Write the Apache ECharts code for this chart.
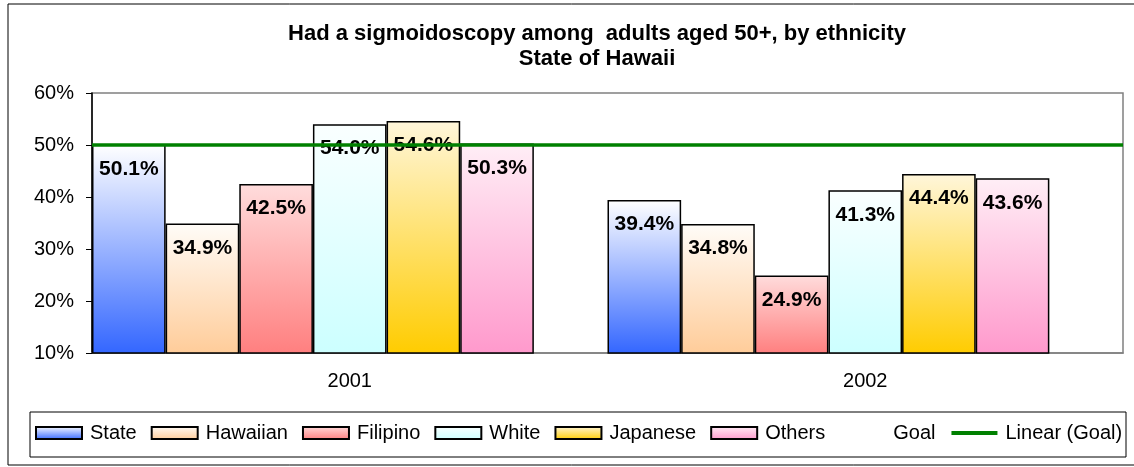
<!DOCTYPE html>
<html>
<head>
<meta charset="utf-8">
<title>Had a sigmoidoscopy among adults aged 50+</title>
<script src="https://cdn.jsdelivr.net/npm/echarts@6.0.0/dist/echarts.min.js"></script>
<style>
	html, body { margin: 0; padding: 0; background: #fff; }
	#chartWrapper { width: 1134px; height: 467px; }
</style>
</head>
<body>
<div id="chartWrapper"></div>
<script>
	// data (percent)
	var years = ['2001', '2002'];
	var state = [50.1, 39.4];
	var hawaiian = [34.9, 34.8];
	var filipino = [42.5, 24.9];
	var white = [54.0, 41.3];
	var japanese = [54.6, 44.4];
	var others = [50.3, 43.6];
	var goal = [50, 50];
	var yTicks = [10, 20, 30, 40, 50, 60];

	var font = 'Arial, "Liberation Sans", sans-serif';

	// vertical gradient, light on top, dark at the bottom
	function grad(top, bottom) {
		return new echarts.graphic.LinearGradient(0, 0, 0, 1, [
			{ offset: 0, color: top },
			{ offset: 1, color: bottom }
		]);
	}

	function barSeries(name, data, top, bottom) {
		return {
			name: name,
			type: 'bar',
			data: data,
			barGap: '0%',
			barCategoryGap: '0%',
			itemStyle: {
				color: grad(top, bottom),
				borderColor: '#000',
				borderWidth: 1.5
			},
			label: {
				show: true,
				position: 'insideTop',
				distance: 14,
				color: '#000',
				fontWeight: 'bold',
				fontSize: 21,
				fontFamily: font,
				formatter: function (p) { return p.value.toFixed(1) + '%'; }
			}
		};
	}

	var myChart = echarts.init(document.getElementById('chartWrapper'));

	var options = {
		animation: false,
		backgroundColor: '#fff',
		title: {
			text: 'Had a sigmoidoscopy among  adults aged 50+, by ethnicity\nState of Hawaii',
			left: 592,
			top: 16,
			textAlign: 'center',
			textStyle: {
				fontSize: 22,
				fontWeight: 'bold',
				lineHeight: 25,
				color: '#000',
				fontFamily: font
			}
		},
		// outer frame and legend box
		graphic: [
			{
				type: 'rect',
				shape: { x: 8, y: 4, width: 1140, height: 461 },
				style: { fill: null, stroke: '#000', lineWidth: 1 },
				z: -10
			},
			{
				type: 'rect',
				shape: { x: 30, y: 412, width: 1096, height: 45 },
				style: { fill: null, stroke: '#000', lineWidth: 1 },
				z: -10
			}
		],
		legend: {
			left: 35,
			top: 423,
			padding: 0,
			itemWidth: 46,
			itemHeight: 12,
			itemGap: 14,
			textStyle: { fontSize: 20, color: '#000', fontFamily: font, padding: [0, 0, 0, 3] },
			data: [
				{ name: 'State', icon: 'rect' },
				{ name: 'Hawaiian', icon: 'rect' },
				{ name: 'Filipino', icon: 'rect' },
				{ name: 'White', icon: 'rect' },
				{ name: 'Japanese', icon: 'rect' },
				{ name: 'Others', icon: 'rect' },
				{ name: 'Goal', icon: 'rect', itemStyle: { opacity: 0 } },
				{ name: 'Linear (Goal)', itemStyle: { opacity: 0 }, lineStyle: { width: 4, color: '#008000' } }
			]
		},
		grid: {
			left: 92,
			right: 11,
			top: 93,
			bottom: 114,
			show: true,
			borderColor: '#808080',
			borderWidth: 1.5
		},
		xAxis: [{
			type: 'category',
			data: years,
			axisLine: { lineStyle: { color: '#808080', width: 1.5 } },
			axisTick: { length: 6, lineStyle: { color: '#808080' } },
			axisLabel: { fontSize: 20, margin: 18, color: '#000', fontFamily: font }
		}, {
			// hidden axis so the goal line runs the full width
			type: 'value',
			min: 0,
			max: 1,
			show: false
		}],
		yAxis: {
			type: 'value',
			min: yTicks[0],
			max: yTicks[yTicks.length - 1],
			interval: yTicks[1] - yTicks[0],
			axisLine: { show: true, lineStyle: { color: '#000', width: 1.5 } },
			axisTick: { show: true, length: 6, lineStyle: { color: '#000' } },
			splitLine: { show: false },
			axisLabel: {
				formatter: '{value}%',
				fontSize: 20,
				margin: 18,
				color: '#000',
				fontFamily: font
			}
		},
		series: [
			barSeries('State', state, '#FFFFFF', '#3366FF'),
			barSeries('Hawaiian', hawaiian, '#FFFCF8', '#FFCC99'),
			barSeries('Filipino', filipino, '#FFDCDC', '#FF7F7F'),
			barSeries('White', white, '#FAFFFF', '#CCFFFF'),
			barSeries('Japanese', japanese, '#FFF6DA', '#FFCC00'),
			barSeries('Others', others, '#FFEEF6', '#FF99CC'),
			{
				// invisible goal bar, keeps the 7th slot in each year
				name: 'Goal',
				type: 'bar',
				data: goal,
				barGap: '0%',
				barCategoryGap: '0%',
				itemStyle: { color: 'rgba(0,0,0,0)', borderWidth: 0 },
				silent: true
			},
			{
				name: 'Linear (Goal)',
				type: 'line',
				xAxisIndex: 1,
				data: [[0, goal[0]], [1, goal[1]]],
				symbol: 'none',
				color: '#008000',
				lineStyle: { color: '#008000', width: 3.5 },
				z: 5,
				silent: true
			}
		]
	};

	myChart.setOption(options);
</script>
</body>
</html>
